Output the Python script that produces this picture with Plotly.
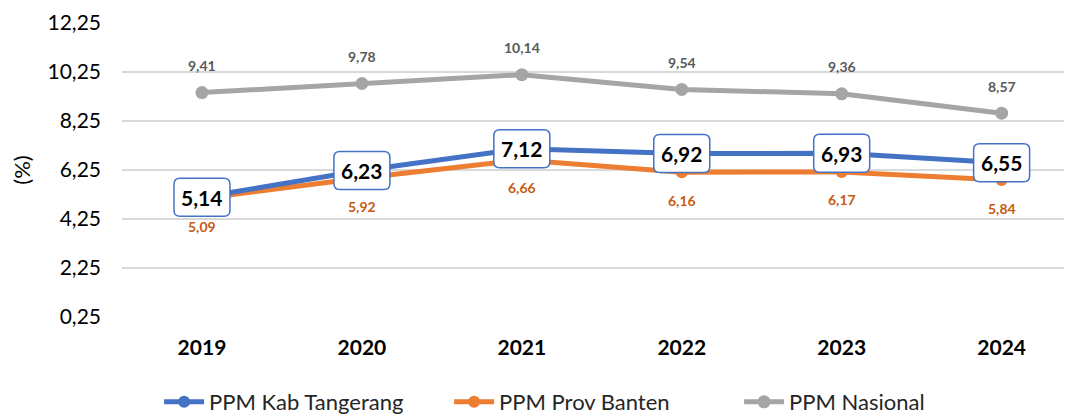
import plotly.graph_objects as go

years = ["2019", "2020", "2021", "2022", "2023", "2024"]
kab_tangerang = [5.14, 6.23, 7.12, 6.92, 6.93, 6.55]
prov_banten = [5.09, 5.92, 6.66, 6.16, 6.17, 5.84]
nasional = [9.41, 9.78, 10.14, 9.54, 9.36, 8.57]
y_ticks = [0.25, 2.25, 4.25, 6.25, 8.25, 10.25, 12.25]

BLUE = "#4472C4"
ORANGE = "#ED7D31"
GRAY = "#A5A5A5"
FONT = "Lato, 'Open Sans', sans-serif"

xpos = list(range(len(years)))

def fmt(v):
    return f"{v:.2f}".replace(".", ",")

fig = go.Figure()

fig.add_trace(go.Scatter(
    x=xpos, y=prov_banten, name="PPM Prov Banten", mode="lines+markers",
    line=dict(color=ORANGE, width=5), marker=dict(size=12, color=ORANGE),
    legendrank=2,
))
fig.add_trace(go.Scatter(
    x=xpos, y=kab_tangerang, name="PPM Kab Tangerang", mode="lines+markers",
    line=dict(color=BLUE, width=5), marker=dict(size=12, color=BLUE),
    legendrank=1,
))
fig.add_trace(go.Scatter(
    x=xpos, y=nasional, name="PPM Nasional", mode="lines+markers",
    line=dict(color=GRAY, width=5), marker=dict(size=13, color=GRAY),
    legendrank=3,
))

annotations = []
shapes = []
for xp, v in zip(xpos, nasional):
    annotations.append(dict(x=xp, y=v, xref="x", yref="y", text=f"<b>{fmt(v)}</b>", showarrow=False,
                            yshift=27, font=dict(family=FONT, size=14, color="#595959")))
for xp, v in zip(xpos, prov_banten):
    annotations.append(dict(x=xp, y=v, xref="x", yref="y", text=f"<b>{fmt(v)}</b>", showarrow=False,
                            yshift=-28, font=dict(family=FONT, size=14, color="#C55A11")))

w, h, r = 28, 19, 6
rounded = (f"M {-w+r},{-h} L {w-r},{-h} Q {w},{-h} {w},{-h+r} L {w},{h-r} Q {w},{h} {w-r},{h} "
           f"L {-w+r},{h} Q {-w},{h} {-w},{h-r} L {-w},{-h+r} Q {-w},{-h} {-w+r},{-h} Z")
for xp, v in zip(xpos, kab_tangerang):
    shapes.append(dict(type="path", xref="x", yref="y", xsizemode="pixel", ysizemode="pixel",
                       xanchor=xp, yanchor=v, path=rounded, fillcolor="white",
                       line=dict(color=BLUE, width=1.5), layer="above"))
    annotations.append(dict(x=xp, y=v, xref="x", yref="y", text=f"<b>{fmt(v)}</b>", showarrow=False,
                            font=dict(family=FONT, size=21, color="black")))

fig.update_layout(
    width=1064, height=415,
    margin=dict(l=114, r=0, t=15, b=106),
    plot_bgcolor="white", paper_bgcolor="white",
    separators=",.",
    font=dict(family=FONT, color="#000000"),
    showlegend=True,
    legend=dict(orientation="h", xref="container", yref="container",
                x=0.142, xanchor="left", y=0.0, yanchor="bottom",
                font=dict(size=22, color="#262626"), itemwidth=40,
                entrywidth=235, tracegroupgap=0),
    annotations=annotations,
    shapes=shapes,
)
fig.update_xaxes(range=[-0.5, 5.44], showgrid=False, showline=False,
                 zeroline=False, ticks="", ticklabelstandoff=16,
                 tickfont=dict(size=21, color="#000000", family=FONT),
                 tickvals=xpos, ticktext=[f"<b>{y}</b>" for y in years])
fig.update_yaxes(range=[0.25, 12.25], tickvals=y_ticks, ticktext=[fmt(t) for t in y_ticks],
                 showgrid=True, gridcolor="#D9D9D9", gridwidth=1.5, zeroline=False,
                 showline=False, ticks="", ticklabelstandoff=20,
                 tickfont=dict(size=21, color="#000000", family=FONT),
                 title=dict(text="(%)", font=dict(size=22, color="#000000", family=FONT), standoff=14))

fig.write_html("out.html")
